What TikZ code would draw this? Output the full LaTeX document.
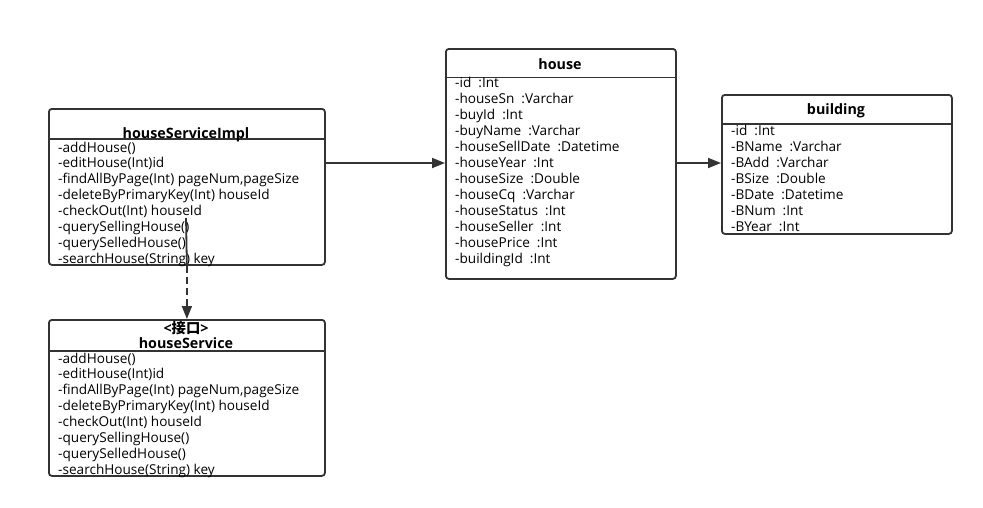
\documentclass[tikz,border=0pt]{standalone}
\usepackage{fontspec}
\setmainfont{Open Sans}
\newfontfamily\cjk{Noto Sans CJK SC}
\usetikzlibrary{arrows.meta}
\definecolor{ink}{HTML}{333333}
\begin{document}
\begin{tikzpicture}[x=1pt,y=-1pt,
  box/.style={draw=ink,line width=1.8pt,rounded corners=3pt,inner sep=0pt,anchor=north west,fill=white},
  sep/.style={draw=ink,line width=1.8pt},
  line/.style={draw=ink,line width=1.8pt},
  arr/.style={line,-{Triangle[length=13pt,width=10pt]}},
  txt/.style={anchor=base west,inner sep=0pt,font=\fontsize{13.6}{15}\selectfont,text=black},
  ttl/.style={anchor=base,inner sep=0pt,font=\fontsize{14.3}{15}\selectfont\bfseries,text=black}]
\useasboundingbox[fill=white] (0,0) rectangle (983,507);
% boxes
\node[box,minimum width=276pt,minimum height=156pt] (impl) at (48,108) {};
\node[box,minimum width=276pt,minimum height=156pt] (svc) at (48,319) {};
\node[box,minimum width=230pt,minimum height=230pt] (house) at (445,48) {};
\node[box,minimum width=230pt,minimum height=139pt] (bldg) at (721,94) {};
% header separators
\draw[sep] ([yshift=-31pt]impl.north west) -- ([yshift=-31pt]impl.north east);
\draw[sep] ([yshift=-32pt]svc.north west) -- ([yshift=-32pt]svc.north east);
\draw[sep] ([yshift=-29.5pt]house.north west) -- ([yshift=-29.5pt]house.north east);
\draw[sep] ([yshift=-30pt]bldg.north west) -- ([yshift=-30pt]bldg.north east);
% titles
\node[ttl] (impl-t) at (186,138) {houseServiceImpl};
\node[ttl] (svc-s) at (186,333) {<{\cjk 接口}>};
\node[ttl] (svc-t) at (186,348) {houseService};
\node[ttl] (house-t) at (560,69) {house};
\node[ttl] (bldg-t) at (836,114) {building};
% members
\foreach \t [count=\i] in {-addHouse(),-editHouse(Int)id,{-findAllByPage(Int) pageNum,pageSize},-deleteByPrimaryKey(Int) houseId,-checkOut(Int) houseId,-querySellingHouse(),-querySelledHouse(),-searchHouse(String) key}
  \node[txt] (impl-\i) at (58,152+15.9*\i-15.9) {\t};
\foreach \t [count=\i] in {-addHouse(),-editHouse(Int)id,{-findAllByPage(Int) pageNum,pageSize},-deleteByPrimaryKey(Int) houseId,-checkOut(Int) houseId,-querySellingHouse(),-querySelledHouse(),-searchHouse(String) key}
  \node[txt] (svc-\i) at (58,363+15.9*\i-15.9) {\t};
\foreach \t [count=\i] in {-id\ \ :Int,-houseSn\ \ :Varchar,-buyId\ \ :Int,-buyName\ \ :Varchar,-houseSellDate\ \ :Datetime,-houseYear\ \ :Int,-houseSize\ \ :Double,-houseCq\ \ :Varchar,-houseStatus\ \ :Int,-houseSeller\ \ :Int,-housePrice\ \ :Int,-buildingId\ \ :Int}
  \node[txt] (house-\i) at (455,87+16*\i-16) {\t};
\foreach \t [count=\i] in {-id\ \ :Int,-BName\ \ :Varchar,-BAdd\ \ :Varchar,-BSize\ \ :Double,-BDate\ \ :Datetime,-BNum\ \ :Int,-BYear\ \ :Int}
  \node[txt] (bldg-\i) at (731,135+16*\i-16) {\t};
% connectors
\coordinate (r1) at (0,163);
\draw[arr] (impl.east |- r1) -- (house.west |- r1);
\draw[arr] (house.east |- r1) -- (bldg.west |- r1);
\coordinate (d0) at (186,218);
\draw[line] (d0) -- (impl.south);
\draw[arr,dash pattern=on 7pt off 4pt] (impl.south) -- (svc.north);
\end{tikzpicture}
\end{document}
